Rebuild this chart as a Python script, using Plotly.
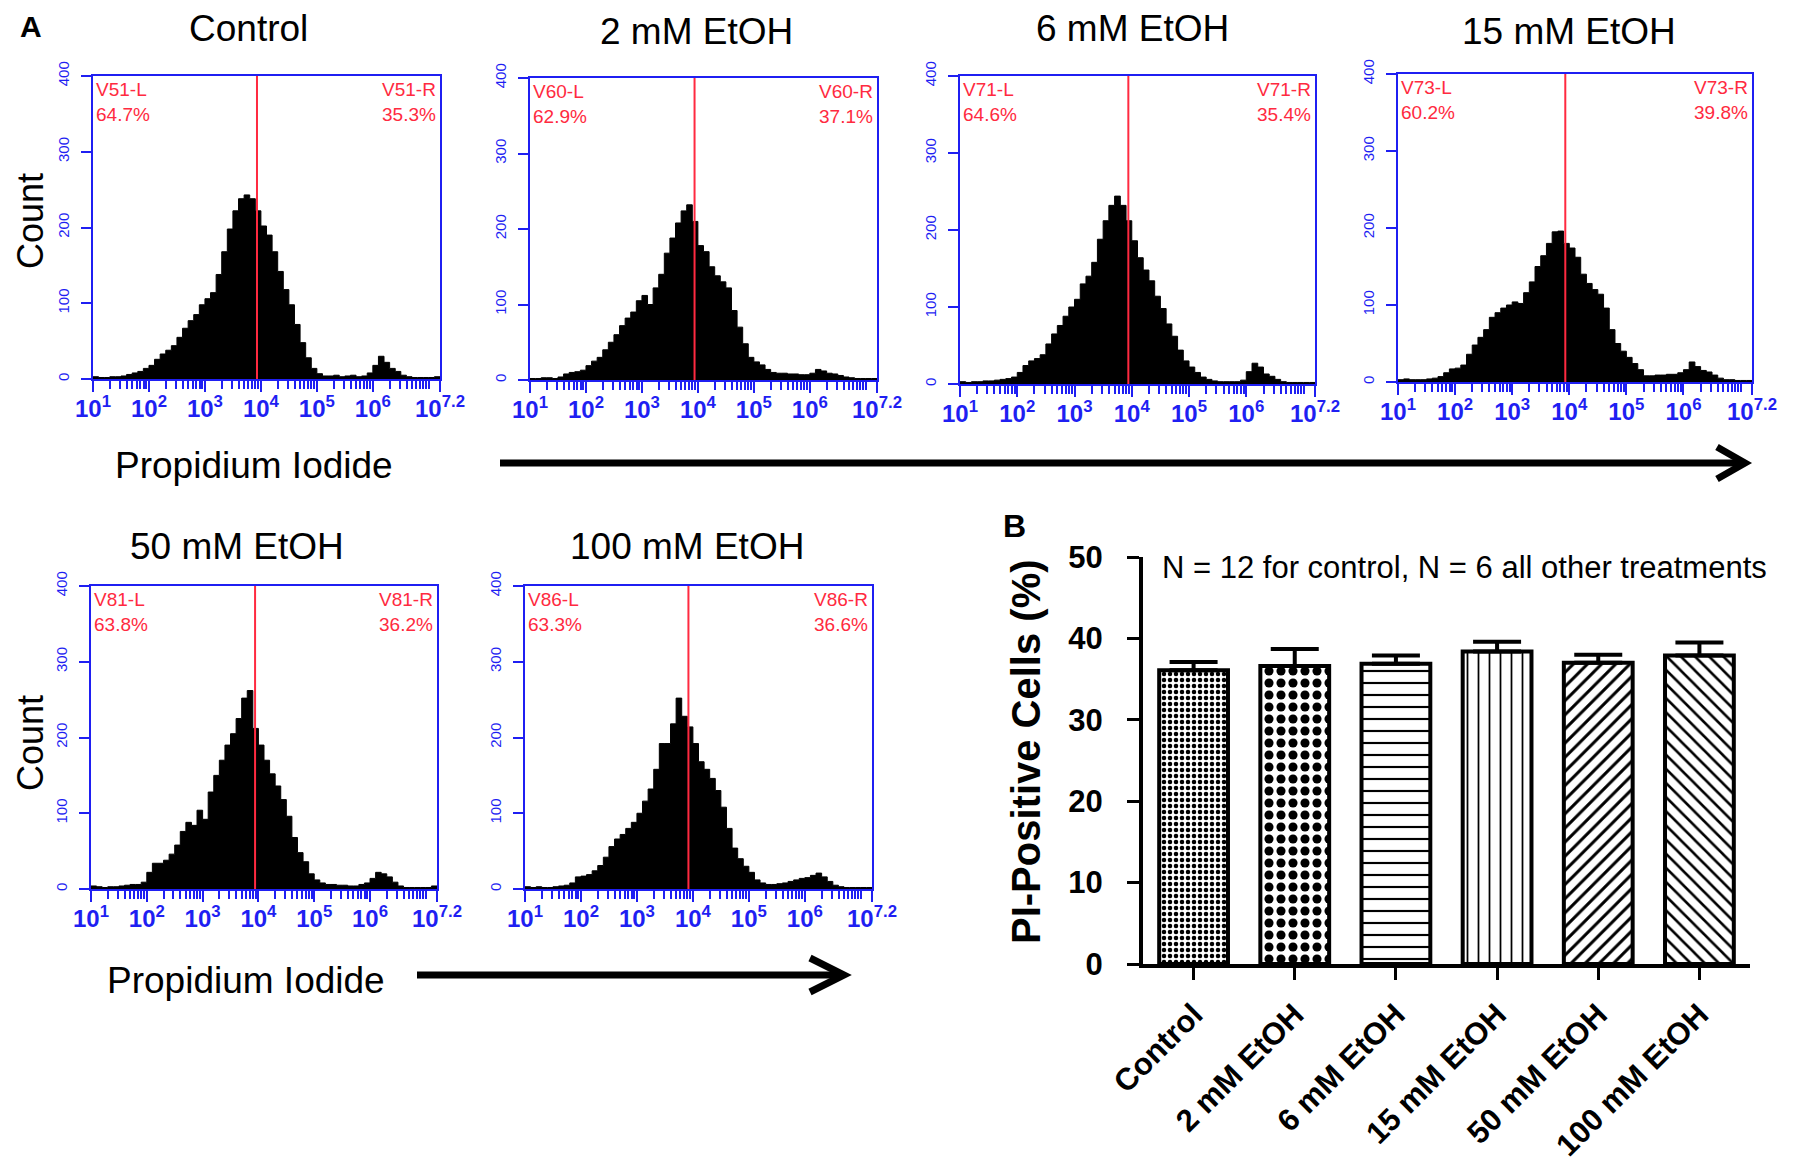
import plotly.graph_objects as go

# reference canvas size; the page body adds an 8 px margin, so the figure is
# drawn 16 px smaller and all reference pixel positions are shifted by 8 px.
W, H = 1793, 1165
OFF = 8
WF, HF = W - 2 * OFF, H - 2 * OFF
FONT = "Liberation Sans, Arial, Helvetica, sans-serif"
BLUE = "#1f1ff2"
RED = "#ff2a40"

# ---------------- data: flow cytometry histograms ----------------
panel_titles = ["Control", "2 mM EtOH", "6 mM EtOH", "15 mM EtOH", "50 mM EtOH", "100 mM EtOH"]
gate_names = ["V51", "V60", "V71", "V73", "V81", "V86"]
left_pct = ["64.7%", "62.9%", "64.6%", "60.2%", "63.8%", "63.3%"]
right_pct = ["35.3%", "37.1%", "35.4%", "39.8%", "36.2%", "36.6%"]
gate_log10 = [3.93, 3.94, 3.94, 3.93, 3.94, 3.92]

bin_start_log10 = 1.0
bin_width_log10 = 0.1

counts_control = [3, 2, 2, 3, 3, 4, 6, 8, 10, 14,
                  18, 26, 33, 38, 44, 55, 67, 77, 85, 98,
                  106, 114, 138, 168, 198, 222, 238, 243, 238, 222,
                  202, 190, 168, 142, 118, 98, 72, 48, 28, 14,
                  7, 4, 4, 5, 3, 4, 5, 3, 4, 8,
                  18, 30, 22, 14, 10, 5, 3, 2, 2, 2,
                  2, 3]
counts_2mM = [2, 2, 3, 3, 2, 4, 8, 10, 11, 13,
              19, 25, 30, 40, 50, 60, 72, 82, 90, 105,
              112, 100, 122, 140, 168, 188, 208, 224, 232, 210,
              178, 170, 150, 138, 130, 122, 92, 70, 48, 30,
              24, 20, 14, 10, 9, 9, 8, 8, 7, 7,
              9, 14, 12, 9, 8, 6, 4, 3, 2, 2,
              2, 2]
counts_6mM = [3, 2, 3, 3, 4, 4, 5, 6, 7, 9,
              15, 24, 30, 33, 38, 52, 65, 76, 88, 100,
              110, 130, 140, 158, 188, 212, 232, 244, 232, 212,
              186, 164, 148, 134, 114, 98, 78, 62, 44, 30,
              22, 15, 9, 6, 4, 3, 3, 3, 3, 5,
              16, 27, 22, 13, 10, 6, 3, 2, 2, 2,
              2, 2]
counts_15mM = [3, 4, 3, 3, 3, 4, 5, 7, 12, 17,
               18, 22, 36, 48, 58, 68, 84, 90, 96, 100,
               104, 102, 116, 130, 150, 164, 180, 195, 196, 180,
               174, 162, 140, 128, 120, 114, 96, 68, 50, 40,
               32, 24, 16, 8, 8, 9, 9, 10, 10, 12,
               16, 26, 20, 15, 13, 9, 5, 3, 3, 2,
               2, 2]
counts_50mM = [4, 3, 2, 3, 3, 4, 5, 6, 6, 9,
               22, 34, 34, 38, 46, 58, 76, 88, 84, 104,
               92, 128, 150, 170, 190, 205, 225, 252, 262, 212,
               190, 170, 152, 136, 118, 96, 68, 48, 36, 20,
               12, 8, 6, 6, 5, 5, 4, 4, 6, 8,
               14, 22, 20, 16, 9, 4, 2, 2, 2, 2,
               2, 4]
counts_100mM = [3, 2, 3, 2, 2, 3, 4, 5, 8, 16,
                17, 19, 24, 31, 42, 56, 66, 72, 80, 88,
                100, 116, 132, 158, 192, 192, 218, 252, 228, 214,
                192, 168, 158, 146, 130, 108, 80, 54, 40, 30,
                22, 12, 8, 6, 6, 7, 8, 10, 12, 14,
                15, 18, 21, 16, 10, 5, 3, 2, 2, 2,
                2, 2]
hist_counts = [counts_control, counts_2mM, counts_6mM, counts_15mM, counts_50mM, counts_100mM]

x_tick_log10 = [1, 2, 3, 4, 5, 6, 7.2]
x_tick_text = ["10<sup>1</sup>", "10<sup>2</sup>", "10<sup>3</sup>", "10<sup>4</sup>",
               "10<sup>5</sup>", "10<sup>6</sup>", "10<sup>7.2</sup>"]
y_hist_ticks = [0, 100, 200, 300, 400]

# ---------------- data: bar chart ----------------
bar_categories = ["Control", "2 mM EtOH", "6 mM EtOH", "15 mM EtOH", "50 mM EtOH", "100 mM EtOH"]
bar_means = [36.1, 36.6, 36.9, 38.4, 37.0, 37.9]
bar_sem = [1.0, 2.1, 1.0, 1.2, 1.0, 1.6]
bar_y_ticks = [0, 10, 20, 30, 40, 50]

# ---------------- layout geometry (reference pixels) ----------------
frames = [(93, 440, 76, 379), (530, 877, 78, 380), (960, 1315, 76, 384),
          (1398, 1752, 74, 382), (91, 437, 586, 889), (525, 872, 586, 889)]
title_xy = [(248, 29), (696, 31), (1132, 29), (1569, 31), (237, 547), (687, 547)]


def px(x):
    return (x - OFF) / WF


def py(y):
    return 1 - (y - OFF) / HF


fig = go.Figure()
layout = {}
annotations = []
shapes = []

minor_vals = [m * 10 ** d for d in range(1, 7) for m in range(2, 10)] + [1e7]

for i in range(6):
    sx = "" if i == 0 else str(i + 1)
    L, R, T, B = frames[i]
    counts = hist_counts[i]
    edges = [bin_start_log10 + bin_width_log10 * k for k in range(len(counts) + 1)]
    xs = [10 ** e for e in edges]
    ys = list(counts) + [counts[-1]]
    fig.add_trace(go.Scatter(x=xs, y=ys, mode="lines", line=dict(color="black", width=1, shape="hv"),
                             fill="tozeroy", fillcolor="black", xaxis="x" + sx, yaxis="y" + sx,
                             showlegend=False, hoverinfo="skip"))
    g = 10 ** gate_log10[i]
    fig.add_trace(go.Scatter(x=[g, g], y=[0, 400], mode="lines", line=dict(color=RED, width=2),
                             xaxis="x" + sx, yaxis="y" + sx, showlegend=False, hoverinfo="skip"))

    layout["xaxis" + sx] = dict(
        domain=[px(L), px(R)], anchor="y" + sx, type="log", range=[1, 7.2],
        tickmode="array", tickvals=[10 ** v for v in x_tick_log10], ticktext=x_tick_text,
        ticks="outside", ticklen=11, tickwidth=2, tickcolor=BLUE, ticklabelstandoff=-4,
        minor=dict(tickmode="array", tickvals=minor_vals, ticks="outside", ticklen=8,
                   tickwidth=1.6, tickcolor=BLUE, showgrid=False),
        showline=True, linecolor=BLUE, linewidth=1.8, mirror=True,
        showgrid=False, zeroline=False, automargin=False,
        tickfont=dict(family=FONT, size=24, color=BLUE, weight="bold"))
    layout["yaxis" + sx] = dict(
        domain=[py(B), py(T)], anchor="x" + sx, range=[0, 400],
        tickmode="array", tickvals=y_hist_ticks, ticks="outside", ticklen=10, tickwidth=1.6,
        tickcolor=BLUE, tickangle=-90, ticklabelstandoff=6,
        tickfont=dict(family=FONT, size=15, color=BLUE),
        showline=True, linecolor=BLUE, linewidth=1.8, mirror=True,
        showgrid=False, zeroline=False, automargin=False)

    xd, yd = "x" + sx + " domain", "y" + sx + " domain"
    hpx = B - T
    annotations.append(dict(text=gate_names[i] + "-L<br>" + left_pct[i], xref=xd, yref=yd,
                            x=0.003, y=1 - 1 / hpx, xanchor="left", yanchor="top", align="left",
                            showarrow=False, font=dict(family=FONT, size=19, color=RED)))
    annotations.append(dict(text=gate_names[i] + "-R<br>" + right_pct[i], xref=xd, yref=yd,
                            x=0.995, y=1 - 1 / hpx, xanchor="right", yanchor="top", align="right",
                            showarrow=False, font=dict(family=FONT, size=19, color=RED)))
    tx, ty = title_xy[i]
    annotations.append(dict(text=panel_titles[i], xref="paper", yref="paper", x=px(tx), y=py(ty),
                            xanchor="center", yanchor="middle", showarrow=False,
                            font=dict(family=FONT, size=37, color="black")))

# ---------------- bar chart ----------------
bar_patterns = [".", ".", "-", "|", "/", "\\"]
bar_pat_size = [6, 12, 12, 11, 10, 10]
bar_pat_solid = [0.45, 0.45, 0.18, 0.16, 0.3, 0.26]

fig.add_trace(go.Bar(
    x=bar_categories, y=bar_means, xaxis="x7", yaxis="y7", width=0.68,
    marker=dict(color="white", line=dict(color="black", width=4),
                pattern=dict(shape=bar_patterns, size=bar_pat_size, solidity=bar_pat_solid,
                             fgcolor="black", bgcolor="white", fgopacity=1)),
    error_y=dict(type="data", array=bar_sem, arrayminus=[0] * len(bar_sem), symmetric=False,
                 color="black", thickness=4, width=24),
    showlegend=False, hoverinfo="skip"))

layout["xaxis7"] = dict(
    domain=[px(1143), px(1750)], anchor="y7", range=[-0.5, 5.5], type="category",
    showline=True, linecolor="black", linewidth=4, ticks="outside", ticklen=12, tickwidth=3,
    tickcolor="black", tickangle=-45, ticklabelstandoff=4,
    tickfont=dict(family=FONT, size=31, color="black", weight="bold"),
    showgrid=False, zeroline=False, automargin=False)
layout["yaxis7"] = dict(
    domain=[py(964), py(557)], anchor="x7", range=[0, 50], tickmode="array", tickvals=bar_y_ticks,
    showline=True, linecolor="black", linewidth=4, ticks="outside", ticklen=12, tickwidth=3,
    tickcolor="black", ticklabelstandoff=18,
    tickfont=dict(family=FONT, size=31, color="black", weight="bold"),
    showgrid=False, zeroline=False, automargin=False)

# ---------------- labels ----------------
def text(t, x, y, size, bold=False, angle=0, xanchor="center", yanchor="middle"):
    annotations.append(dict(text=t, xref="paper", yref="paper", x=px(x), y=py(y), xanchor=xanchor,
                            yanchor=yanchor, showarrow=False, textangle=angle,
                            font=dict(family=FONT, size=size, color="black",
                                      weight="bold" if bold else "normal")))

text("A", 31, 8, 30, bold=True, yanchor="top")
text("B", 1014, 526, 32, bold=True)
text("Count", 30, 221, 36, angle=-90)
text("Count", 30, 743, 36, angle=-90)
text("Propidium Iodide", 254, 466, 37)
text("Propidium Iodide", 246, 980, 37)
text("PI-Positive Cells (%)", 1026, 752, 40, bold=True, angle=-90)
text("N = 12 for control, N = 6 all other treatments", 1160, 568, 31, xanchor="left")

# arrows
def arrow(x0, x1, y, back, half, w):
    shapes.append(dict(type="line", xref="paper", yref="paper", x0=px(x0), x1=px(x1 - 3), y0=py(y), y1=py(y),
                       line=dict(color="black", width=w)))
    shapes.append(dict(type="path", xref="paper", yref="paper",
                       path="M %f,%f L %f,%f L %f,%f" % (px(x1 - back), py(y - half), px(x1), py(y),
                                                          px(x1 - back), py(y + half)),
                       line=dict(color="black", width=w)))

arrow(500, 1745, 463, 28, 16, 7)
arrow(417, 844, 975, 34, 17, 7)

layout.update(dict(width=WF, height=HF, margin=dict(l=0, r=0, t=0, b=0, pad=0, autoexpand=False),
                   paper_bgcolor="white", plot_bgcolor="white",
                   annotations=annotations, shapes=shapes, showlegend=False,
                   font=dict(family=FONT)))
fig.update_layout(**layout)
fig.write_html("out.html")
